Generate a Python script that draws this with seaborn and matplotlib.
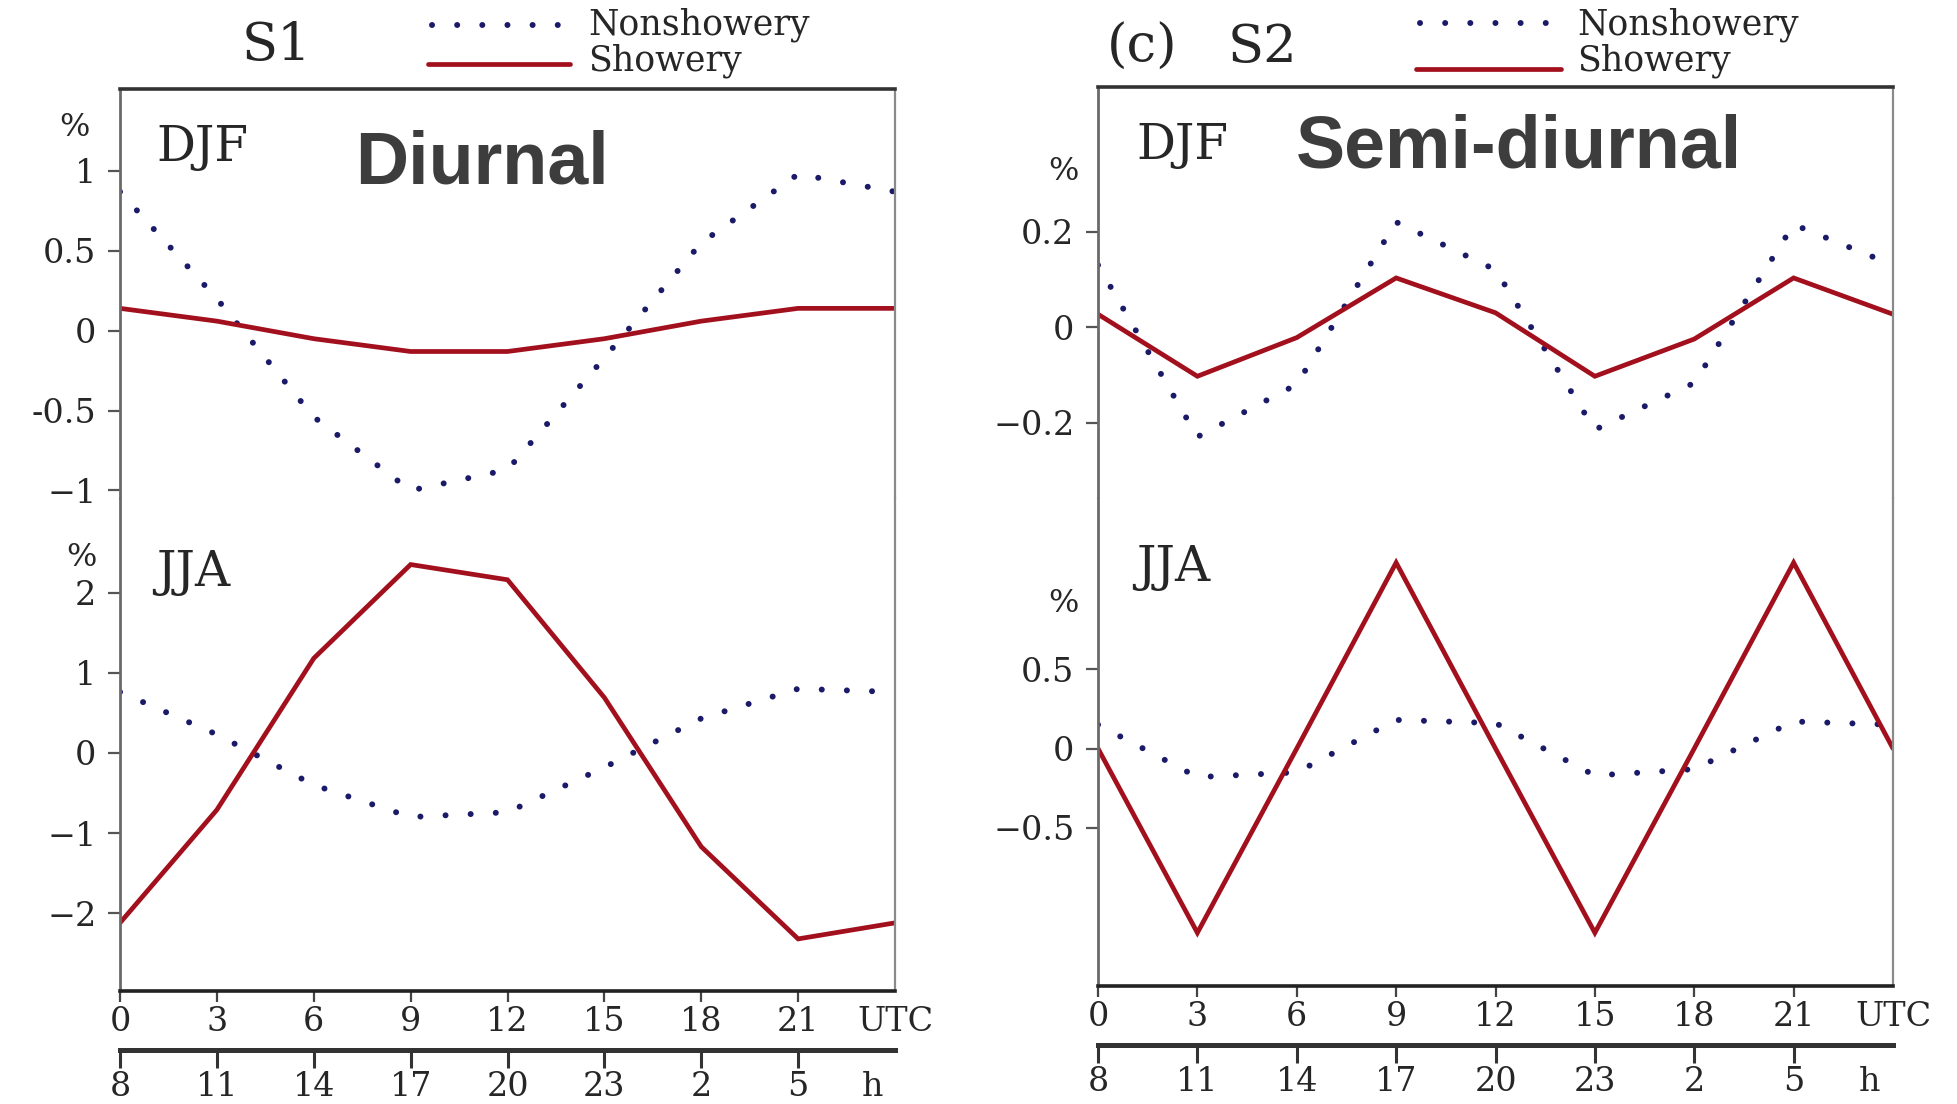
import matplotlib
matplotlib.use("Agg")
import matplotlib.pyplot as plt
import seaborn as sns
import pandas as pd
from matplotlib.lines import Line2D

# ---------------- data ----------------
hours_utc = [0, 3, 6, 9, 12, 15, 18, 21, 24]
local_hour_labels = ["8", "11", "14", "17", "20", "23", "2", "5"]

s1_djf_nonshowery = [0.87, 0.20, -0.54, -1.00, -0.87, -0.17, 0.55, 0.98, 0.87]
s1_djf_showery = [0.14, 0.06, -0.05, -0.13, -0.13, -0.05, 0.06, 0.14, 0.14]
s1_jja_nonshowery = [0.76, 0.23, -0.40, -0.80, -0.74, -0.18, 0.43, 0.80, 0.76]
s1_jja_showery = [-2.12, -0.71, 1.18, 2.35, 2.16, 0.69, -1.17, -2.32, -2.12]

s2_djf_nonshowery = [0.13, -0.23, -0.12, 0.22, 0.12, -0.215, -0.117, 0.215, 0.13]
s2_djf_showery = [0.027, -0.103, -0.022, 0.103, 0.030, -0.103, -0.025, 0.103, 0.027]
s2_jja_nonshowery = [0.15, -0.18, -0.15, 0.18, 0.16, -0.17, -0.13, 0.17, 0.15]
s2_jja_showery = [0.0, -1.16, 0.0, 1.17, 0.0, -1.16, 0.0, 1.17, 0.0]

s1_djf_ticks = [1, 0.5, 0, -0.5, -1]
s1_djf_ticklabels = ["1", "0.5", "0", "-0.5", "\u22121"]
s1_jja_ticks = [2, 1, 0, -1, -2]
s1_jja_ticklabels = ["2", "1", "0", "\u22121", "\u22122"]
s2_djf_ticks = [0.2, 0, -0.2]
s2_djf_ticklabels = ["0.2", "0", "\u22120.2"]
s2_jja_ticks = [0.5, 0, -0.5]
s2_jja_ticklabels = ["0.5", "0", "\u22120.5"]

# ---------------- style ----------------
sns.set_style("white")
plt.rcParams["font.family"] = ["DejaVu Serif"]
plt.rcParams["axes.unicode_minus"] = True

W, H = 1957, 1104
fig = plt.figure(figsize=(W / 100, H / 100), dpi=100)
fig.patch.set_facecolor("white")

RED = "#a3101d"
NAVY = "#1a1a68"
TICKFS = 24
DOT_LW = 4.3
DOT_STYLE = (0, (0.01, 4.2))
RED_LW = 3.4


def fx(px):
    return px / W


def fy(py):
    return 1 - py / H


def add_axes(x0, x1, y0, y1):
    return fig.add_axes([fx(x0), fy(y1), fx(x1) - fx(x0), (y1 - y0) / H])


def draw(ax, non, sh):
    df = pd.DataFrame({"utc": hours_utc, "non": non, "sh": sh})
    sns.lineplot(data=df, x="utc", y="non", ax=ax, color=NAVY, lw=DOT_LW, legend=False)
    ln = ax.lines[-1]
    ln.set_linestyle(DOT_STYLE)
    ln.set_dash_capstyle("round")
    sns.lineplot(data=df, x="utc", y="sh", ax=ax, color=RED, lw=RED_LW, legend=False)
    ax.lines[-1].set_solid_joinstyle("miter")
    ax.set_xlim(0, 24)
    ax.set_xlabel("")
    ax.set_ylabel("")
    ax.set_facecolor("white")


def style_spines(ax, top_visible, bottom_visible):
    ax.spines["left"].set_color("#6a6a6a")
    ax.spines["left"].set_linewidth(2.0)
    ax.spines["right"].set_color("#8a8a8a")
    ax.spines["right"].set_linewidth(1.6)
    ax.spines["top"].set_color("#333333")
    ax.spines["top"].set_linewidth(2.6)
    ax.spines["bottom"].set_color("#222222")
    ax.spines["bottom"].set_linewidth(2.6)
    ax.spines["top"].set_visible(top_visible)
    ax.spines["bottom"].set_visible(bottom_visible)
    ax.tick_params(axis="y", direction="out", length=9, width=1.6, color="#555555",
                   labelsize=TICKFS, pad=8, left=True)


def style_bottom(ax, loc):
    ax.set_xticks(hours_utc[:-1] + [24], labels=[str(h) for h in hours_utc[:-1]] + ["UTC"])
    ax.tick_params(axis="x", direction="out", length=8, width=1.6, color="#444444",
                   labelsize=TICKFS, pad=3, bottom=True)
    ax.xaxis.get_major_ticks()[-1].tick1line.set_visible(False)
    sec = ax.secondary_xaxis(loc)
    sec.set_xticks(hours_utc[:-1] + [23.3], labels=local_hour_labels + ["h"])
    sec.spines["bottom"].set_linewidth(3.6)
    sec.spines["bottom"].set_color("#333333")
    sec.tick_params(axis="x", direction="out", length=13, width=2.2, color="#333333",
                    labelsize=TICKFS, pad=2)
    sec.xaxis.get_major_ticks()[-1].tick1line.set_visible(False)


# ---------------- left panel (S1, diurnal) ----------------
axL1 = add_axes(120, 895, 89, 498)
draw(axL1, s1_djf_nonshowery, s1_djf_showery)
axL1.set_ylim(-1.047, 1.513)
axL1.set_yticks(s1_djf_ticks, labels=s1_djf_ticklabels)
axL1.set_xticks([])
style_spines(axL1, True, False)

axL2 = add_axes(120, 895, 498, 991)
draw(axL2, s1_jja_nonshowery, s1_jja_showery)
axL2.set_ylim(-2.97, 3.18)
axL2.set_yticks(s1_jja_ticks, labels=s1_jja_ticklabels)
style_spines(axL2, False, True)
style_bottom(axL2, -0.12)

# ---------------- right panel (S2, semi-diurnal) ----------------
axR1 = add_axes(1098, 1893, 87, 498)
draw(axR1, s2_djf_nonshowery, s2_djf_showery)
axR1.set_ylim(-0.358, 0.503)
axR1.set_yticks(s2_djf_ticks, labels=s2_djf_ticklabels)
axR1.set_xticks([])
style_spines(axR1, True, False)

axR2 = add_axes(1098, 1893, 498, 986)
draw(axR2, s2_jja_nonshowery, s2_jja_showery)
axR2.set_ylim(-1.495, 1.577)
axR2.set_yticks(s2_jja_ticks, labels=s2_jja_ticklabels)
style_spines(axR2, False, True)
style_bottom(axR2, -0.121)

# ---------------- texts ----------------
def ftext(px, py, s, **kw):
    fig.text(fx(px), fy(py), s, **kw)

# season labels
ftext(156, 161, "DJF", fontsize=35, ha="left", va="baseline")
ftext(156, 586, "JJA", fontsize=35, ha="left", va="baseline")
ftext(1136, 159, "DJF", fontsize=35, ha="left", va="baseline")
ftext(1136, 581, "JJA", fontsize=35, ha="left", va="baseline")

# percent units
for (px, py) in [(74, 127), (81, 557), (1063, 172), (1063, 604)]:
    ftext(px, py, "%", fontsize=23, ha="center", va="center")

# big annotations
ftext(482, 184, "Diurnal", fontsize=53, fontweight="bold", color="#3d3d3d",
      family=["Liberation Sans", "DejaVu Sans"], ha="center", va="baseline")
ftext(1519, 168, "Semi-diurnal", fontsize=53, fontweight="bold", color="#3d3d3d",
      family=["Liberation Sans", "DejaVu Sans"], ha="center", va="baseline")

# panel titles
ftext(277, 60, "S1", fontsize=38, ha="center", va="baseline")
ftext(1142, 62, "(c)", fontsize=38, ha="center", va="baseline")
ftext(1262, 62, "S2", fontsize=38, ha="center", va="baseline")

# legends
def legend_at(x0, x1, y_dot, y_sol, tx, ty_non, ty_sh):
    fig.add_artist(Line2D([fx(x0 + 4), fx(x1)], [fy(y_dot), fy(y_dot)], transform=fig.transFigure,
                          color=NAVY, lw=DOT_LW, linestyle=DOT_STYLE, dash_capstyle="round"))
    fig.add_artist(Line2D([fx(x0), fx(x1)], [fy(y_sol), fy(y_sol)], transform=fig.transFigure,
                          color=RED, lw=RED_LW))
    ftext(tx, ty_non, "Nonshowery", fontsize=25, ha="left", va="baseline")
    ftext(tx, ty_sh, "Showery", fontsize=25, ha="left", va="baseline")

legend_at(428, 570, 25, 64, 588, 34, 71)
legend_at(1416, 1561, 23, 69, 1577, 35, 71)

fig.savefig("out.png", dpi=100, facecolor="white")
